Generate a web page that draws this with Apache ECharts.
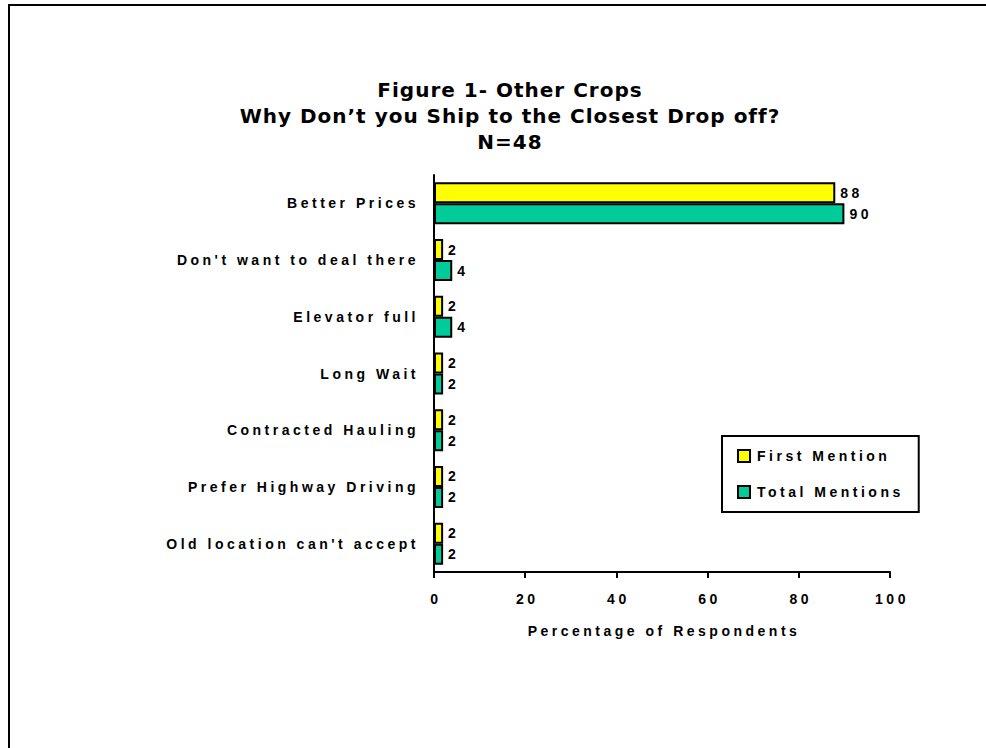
<!DOCTYPE html>
<html>
<head>
<meta charset="utf-8">
<script src="https://cdn.jsdelivr.net/npm/echarts@6/dist/echarts.min.js"></script>
<style>
html, body { margin: 0; padding: 0; background: #fff; }
#chart { width: 986px; height: 748px; }
/* widely tracked lettering for axis, legend and value text */
#chart svg text { letter-spacing: 3.5px; }
/* the title keeps a tighter tracking */
#chart svg text[style*="20px"] { letter-spacing: 1px; }
</style>
</head>
<body>
<div id="chart"></div>
<script>
// Reasons for not shipping to the closest drop-off point (percent of respondents)
const categories = [
  'Better Prices',
  "Don't want to deal there",
  'Elevator full',
  'Long Wait',
  'Contracted Hauling',
  'Prefer Highway Driving',
  "Old location can't accept"
];
const firstMention = [88, 2, 2, 2, 2, 2, 2];
const totalMentions = [90, 4, 4, 2, 2, 2, 2];
const xTicks = [0, 20, 40, 60, 80, 100];

const FONT = 'Liberation Sans';
const TITLE_FONT = 'DejaVu Sans';
const TEXT_SIZE = 14;

const chart = echarts.init(document.getElementById('chart'), null, { renderer: 'svg' });

const labelStyle = {
  show: true,
  position: 'right',
  distance: 5,
  fontFamily: FONT,
  fontWeight: 'bold',
  fontSize: TEXT_SIZE,
  color: '#000'
};

chart.setOption({
  animation: false,
  backgroundColor: '#fff',
  title: {
    text: 'Figure 1- Other Crops\nWhy Don\u2019t you Ship to the Closest Drop off?\nN=48',
    left: 505,
    top: 72,
    textAlign: 'center',
    textStyle: {
      fontFamily: TITLE_FONT,
      fontWeight: 'bold',
      fontSize: 20,
      lineHeight: 26,
      color: '#000'
    }
  },
  graphic: [{
    type: 'polyline',
    shape: { points: [[9, 900], [9, 5], [1200, 5]] },
    style: { fill: 'none', stroke: '#000', lineWidth: 2 },
    silent: true
  }],
  legend: {
    orient: 'vertical',
    left: 722,
    top: 436,
    padding: [13, 64, 13, 15],
    itemGap: 22,
    itemWidth: 12,
    itemHeight: 12,
    icon: 'rect',
    borderColor: '#000',
    borderWidth: 2,
    textStyle: {
      fontFamily: FONT,
      fontWeight: 'bold',
      fontSize: TEXT_SIZE,
      color: '#000',
      padding: [0, 0, 0, 2]
    },
    data: ['First Mention', 'Total Mentions']
  },
  grid: {
    left: 434,
    right: 96,
    top: 175,
    bottom: 176,
    containLabel: false
  },
  xAxis: {
    type: 'value',
    min: xTicks[0],
    max: xTicks[xTicks.length - 1],
    interval: 20,
    name: 'Percentage of Respondents',
    nameLocation: 'middle',
    nameGap: 52,
    nameTextStyle: {
      fontFamily: FONT,
      fontWeight: 'bold',
      fontSize: TEXT_SIZE,
      color: '#000',
      padding: [0, 0, 0, 4]
    },
    axisLine: { show: true, lineStyle: { color: '#000', width: 2 } },
    axisTick: { show: true, length: 6, lineStyle: { color: '#000', width: 2 } },
    axisLabel: {
      margin: 20,
      fontFamily: FONT,
      fontWeight: 'bold',
      fontSize: TEXT_SIZE,
      color: '#000',
      padding: [0, 0, 0, 4]
    },
    splitLine: { show: false }
  },
  yAxis: {
    type: 'category',
    data: categories,
    inverse: true,
    axisLine: { show: true, lineStyle: { color: '#000', width: 2 } },
    axisTick: { show: false },
    axisLabel: {
      margin: 15,
      fontFamily: FONT,
      fontWeight: 'bold',
      fontSize: TEXT_SIZE,
      color: '#000'
    }
  },
  series: [
    {
      name: 'First Mention',
      type: 'bar',
      data: firstMention,
      barCategoryGap: '26%',
      barGap: '0%',
      itemStyle: { color: '#FFFF00', borderColor: '#000', borderWidth: 2 },
      label: labelStyle
    },
    {
      name: 'Total Mentions',
      type: 'bar',
      data: totalMentions,
      barCategoryGap: '26%',
      barGap: '0%',
      itemStyle: { color: '#00CC99', borderColor: '#000', borderWidth: 2 },
      label: labelStyle
    }
  ]
});
</script>
</body>
</html>
